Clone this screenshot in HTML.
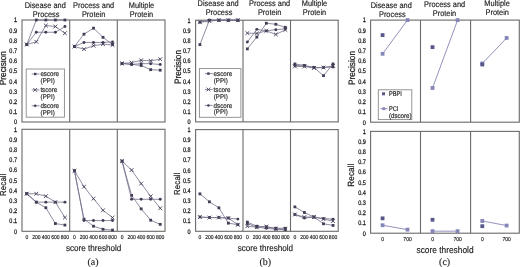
<!DOCTYPE html>
<html><head><meta charset="utf-8"><style>
html,body{margin:0;padding:0;background:#fff;}
body{width:520px;height:267px;overflow:hidden;font-family:"Liberation Sans", sans-serif;}
svg{display:block;filter:blur(0.35px);} text{text-rendering:geometricPrecision;}
</style></head><body>
<svg width="520" height="267" viewBox="0 0 520 267" font-family='"Liberation Sans", sans-serif'>
<rect width="520" height="267" fill="#fff"/>
<rect x="22" y="20" width="143" height="102" fill="none" stroke="#6a6a6a" stroke-width="1.1"/>
<line x1="69.7" y1="20" x2="69.7" y2="122" stroke="#6a6a6a" stroke-width="1.1"/>
<line x1="117.3" y1="20" x2="117.3" y2="122" stroke="#6a6a6a" stroke-width="1.1"/>
<rect x="22" y="129.3" width="143" height="102" fill="none" stroke="#6a6a6a" stroke-width="1.1"/>
<line x1="69.7" y1="129.3" x2="69.7" y2="231.3" stroke="#6a6a6a" stroke-width="1.1"/>
<line x1="117.3" y1="129.3" x2="117.3" y2="231.3" stroke="#6a6a6a" stroke-width="1.1"/>
<text transform="translate(17 124.31) scale(1 1.2)" font-size="5.5" text-anchor="end" fill="#1a1a1a" stroke="#1a1a1a" stroke-width="0.22" >0</text>
<text transform="translate(17 114.11) scale(1 1.2)" font-size="5.5" text-anchor="end" fill="#1a1a1a" stroke="#1a1a1a" stroke-width="0.22" >0.1</text>
<text transform="translate(17 103.91) scale(1 1.2)" font-size="5.5" text-anchor="end" fill="#1a1a1a" stroke="#1a1a1a" stroke-width="0.22" >0.2</text>
<text transform="translate(17 93.71) scale(1 1.2)" font-size="5.5" text-anchor="end" fill="#1a1a1a" stroke="#1a1a1a" stroke-width="0.22" >0.3</text>
<text transform="translate(17 83.51) scale(1 1.2)" font-size="5.5" text-anchor="end" fill="#1a1a1a" stroke="#1a1a1a" stroke-width="0.22" >0.4</text>
<text transform="translate(17 73.31) scale(1 1.2)" font-size="5.5" text-anchor="end" fill="#1a1a1a" stroke="#1a1a1a" stroke-width="0.22" >0.5</text>
<text transform="translate(17 63.11) scale(1 1.2)" font-size="5.5" text-anchor="end" fill="#1a1a1a" stroke="#1a1a1a" stroke-width="0.22" >0.6</text>
<text transform="translate(17 52.91) scale(1 1.2)" font-size="5.5" text-anchor="end" fill="#1a1a1a" stroke="#1a1a1a" stroke-width="0.22" >0.7</text>
<text transform="translate(17 42.71) scale(1 1.2)" font-size="5.5" text-anchor="end" fill="#1a1a1a" stroke="#1a1a1a" stroke-width="0.22" >0.8</text>
<text transform="translate(17 32.51) scale(1 1.2)" font-size="5.5" text-anchor="end" fill="#1a1a1a" stroke="#1a1a1a" stroke-width="0.22" >0.9</text>
<text transform="translate(17 22.31) scale(1 1.2)" font-size="5.5" text-anchor="end" fill="#1a1a1a" stroke="#1a1a1a" stroke-width="0.22" >1</text>
<text transform="translate(17 233.61) scale(1 1.2)" font-size="5.5" text-anchor="end" fill="#1a1a1a" stroke="#1a1a1a" stroke-width="0.22" >0</text>
<text transform="translate(17 223.41) scale(1 1.2)" font-size="5.5" text-anchor="end" fill="#1a1a1a" stroke="#1a1a1a" stroke-width="0.22" >0.1</text>
<text transform="translate(17 213.21) scale(1 1.2)" font-size="5.5" text-anchor="end" fill="#1a1a1a" stroke="#1a1a1a" stroke-width="0.22" >0.2</text>
<text transform="translate(17 203.01) scale(1 1.2)" font-size="5.5" text-anchor="end" fill="#1a1a1a" stroke="#1a1a1a" stroke-width="0.22" >0.3</text>
<text transform="translate(17 192.81) scale(1 1.2)" font-size="5.5" text-anchor="end" fill="#1a1a1a" stroke="#1a1a1a" stroke-width="0.22" >0.4</text>
<text transform="translate(17 182.61) scale(1 1.2)" font-size="5.5" text-anchor="end" fill="#1a1a1a" stroke="#1a1a1a" stroke-width="0.22" >0.5</text>
<text transform="translate(17 172.41) scale(1 1.2)" font-size="5.5" text-anchor="end" fill="#1a1a1a" stroke="#1a1a1a" stroke-width="0.22" >0.6</text>
<text transform="translate(17 162.21) scale(1 1.2)" font-size="5.5" text-anchor="end" fill="#1a1a1a" stroke="#1a1a1a" stroke-width="0.22" >0.7</text>
<text transform="translate(17 152.01) scale(1 1.2)" font-size="5.5" text-anchor="end" fill="#1a1a1a" stroke="#1a1a1a" stroke-width="0.22" >0.8</text>
<text transform="translate(17 141.81) scale(1 1.2)" font-size="5.5" text-anchor="end" fill="#1a1a1a" stroke="#1a1a1a" stroke-width="0.22" >0.9</text>
<text transform="translate(17 131.61) scale(1 1.2)" font-size="5.5" text-anchor="end" fill="#1a1a1a" stroke="#1a1a1a" stroke-width="0.22" >1</text>
<text font-size="8.3" text-anchor="middle" fill="#1a1a1a" stroke="#1a1a1a" stroke-width="0.2" text-rendering="geometricPrecision" transform="translate(5.9 68.2) rotate(-90) scale(1 1.12)">Precision</text>
<text font-size="7.7" text-anchor="middle" fill="#1a1a1a" stroke="#1a1a1a" stroke-width="0.2" letter-spacing="0.2" text-rendering="geometricPrecision" transform="translate(5.6 184.6) rotate(-90) scale(1 1.12)">Recall</text>
<path d="M26.77 44.48L36.31 20L45.85 20L55.39 20L64.93 20" stroke="#766e8a" stroke-width="0.8" fill="none"/>
<rect x="25.37" y="43.08" width="2.8" height="2.8" fill="#443c56"/>
<rect x="34.91" y="18.6" width="2.8" height="2.8" fill="#443c56"/>
<rect x="44.45" y="18.6" width="2.8" height="2.8" fill="#443c56"/>
<rect x="53.99" y="18.6" width="2.8" height="2.8" fill="#443c56"/>
<rect x="63.53" y="18.6" width="2.8" height="2.8" fill="#443c56"/>
<path d="M26.77 193.76L36.31 202.13L45.85 207.74L55.39 223.55L64.93 225.08" stroke="#766e8a" stroke-width="0.8" fill="none"/>
<rect x="25.37" y="192.36" width="2.8" height="2.8" fill="#443c56"/>
<rect x="34.91" y="200.73" width="2.8" height="2.8" fill="#443c56"/>
<rect x="44.45" y="206.34" width="2.8" height="2.8" fill="#443c56"/>
<rect x="53.99" y="222.15" width="2.8" height="2.8" fill="#443c56"/>
<rect x="63.53" y="223.68" width="2.8" height="2.8" fill="#443c56"/>
<path d="M26.77 44.48L36.31 32.24L45.85 32.24L55.39 32.24L64.93 26.53" stroke="#766e8a" stroke-width="0.8" fill="none"/>
<circle cx="26.77" cy="44.48" r="1.47" fill="#443c56"/>
<circle cx="36.31" cy="32.24" r="1.47" fill="#443c56"/>
<circle cx="45.85" cy="32.24" r="1.47" fill="#443c56"/>
<circle cx="55.39" cy="32.24" r="1.47" fill="#443c56"/>
<circle cx="64.93" cy="26.53" r="1.47" fill="#443c56"/>
<path d="M26.77 193.76L36.31 202.13L45.85 202.13L55.39 202.13L64.93 202.13" stroke="#766e8a" stroke-width="0.8" fill="none"/>
<circle cx="26.77" cy="193.76" r="1.47" fill="#443c56"/>
<circle cx="36.31" cy="202.13" r="1.47" fill="#443c56"/>
<circle cx="45.85" cy="202.13" r="1.47" fill="#443c56"/>
<circle cx="55.39" cy="202.13" r="1.47" fill="#443c56"/>
<circle cx="64.93" cy="202.13" r="1.47" fill="#443c56"/>
<path d="M26.77 44.48L36.31 41.83L45.85 25.51L55.39 26.53L64.93 33.26" stroke="#766e8a" stroke-width="0.8" fill="none"/>
<path d="M24.87 42.58L28.67 46.38M24.87 46.38L28.67 42.58" stroke="#443c56" stroke-width="0.9" fill="none"/>
<path d="M34.41 39.93L38.21 43.73M34.41 43.73L38.21 39.93" stroke="#443c56" stroke-width="0.9" fill="none"/>
<path d="M43.95 23.61L47.75 27.41M43.95 27.41L47.75 23.61" stroke="#443c56" stroke-width="0.9" fill="none"/>
<path d="M53.49 24.63L57.29 28.43M53.49 28.43L57.29 24.63" stroke="#443c56" stroke-width="0.9" fill="none"/>
<path d="M63.03 31.36L66.83 35.16M63.03 35.16L66.83 31.36" stroke="#443c56" stroke-width="0.9" fill="none"/>
<path d="M26.77 193.76L36.31 193.76L45.85 196.21L55.39 202.13L64.93 217.53" stroke="#766e8a" stroke-width="0.8" fill="none"/>
<path d="M24.87 191.86L28.67 195.66M24.87 195.66L28.67 191.86" stroke="#443c56" stroke-width="0.9" fill="none"/>
<path d="M34.41 191.86L38.21 195.66M34.41 195.66L38.21 191.86" stroke="#443c56" stroke-width="0.9" fill="none"/>
<path d="M43.95 194.31L47.75 198.11M43.95 198.11L47.75 194.31" stroke="#443c56" stroke-width="0.9" fill="none"/>
<path d="M53.49 200.23L57.29 204.03M53.49 204.03L57.29 200.23" stroke="#443c56" stroke-width="0.9" fill="none"/>
<path d="M63.03 215.63L66.83 219.43M63.03 219.43L66.83 215.63" stroke="#443c56" stroke-width="0.9" fill="none"/>
<text transform="translate(26.77 239.3) scale(1 1.15)" font-size="5.0" text-anchor="middle" fill="#1a1a1a" stroke="#1a1a1a" stroke-width="0.14" >0</text>
<text transform="translate(36.31 239.3) scale(1 1.15)" font-size="5.0" text-anchor="middle" fill="#1a1a1a" stroke="#1a1a1a" stroke-width="0.14" >200</text>
<text transform="translate(45.85 239.3) scale(1 1.15)" font-size="5.0" text-anchor="middle" fill="#1a1a1a" stroke="#1a1a1a" stroke-width="0.14" >400</text>
<text transform="translate(55.39 239.3) scale(1 1.15)" font-size="5.0" text-anchor="middle" fill="#1a1a1a" stroke="#1a1a1a" stroke-width="0.14" >600</text>
<text transform="translate(64.93 239.3) scale(1 1.15)" font-size="5.0" text-anchor="middle" fill="#1a1a1a" stroke="#1a1a1a" stroke-width="0.14" >800</text>
<text transform="translate(45.2 7.8) scale(1 1.1)" font-size="7.4" text-anchor="middle" fill="#1a1a1a" stroke="#1a1a1a" stroke-width="0.14" >Disease and</text>
<text transform="translate(46.1 16.5) scale(1 1.1)" font-size="7.4" text-anchor="middle" fill="#1a1a1a" stroke="#1a1a1a" stroke-width="0.14" >Process</text>
<path d="M74.46 46.52L83.98 34.18L93.5 28.16L103.02 37.34L112.54 44.48" stroke="#766e8a" stroke-width="0.8" fill="none"/>
<rect x="73.06" y="45.12" width="2.8" height="2.8" fill="#443c56"/>
<rect x="82.58" y="32.78" width="2.8" height="2.8" fill="#443c56"/>
<rect x="92.1" y="26.76" width="2.8" height="2.8" fill="#443c56"/>
<rect x="101.62" y="35.94" width="2.8" height="2.8" fill="#443c56"/>
<rect x="111.14" y="43.08" width="2.8" height="2.8" fill="#443c56"/>
<path d="M74.46 170.81L83.98 219.06L93.5 226.2L103.02 229.26L112.54 230.08" stroke="#766e8a" stroke-width="0.8" fill="none"/>
<rect x="73.06" y="169.41" width="2.8" height="2.8" fill="#443c56"/>
<rect x="82.58" y="217.66" width="2.8" height="2.8" fill="#443c56"/>
<rect x="92.1" y="224.8" width="2.8" height="2.8" fill="#443c56"/>
<rect x="101.62" y="227.86" width="2.8" height="2.8" fill="#443c56"/>
<rect x="111.14" y="228.68" width="2.8" height="2.8" fill="#443c56"/>
<path d="M74.46 46.52L83.98 42.44L93.5 42.44L103.02 42.44L112.54 41.93" stroke="#766e8a" stroke-width="0.8" fill="none"/>
<circle cx="74.46" cy="46.52" r="1.47" fill="#443c56"/>
<circle cx="83.98" cy="42.44" r="1.47" fill="#443c56"/>
<circle cx="93.5" cy="42.44" r="1.47" fill="#443c56"/>
<circle cx="103.02" cy="42.44" r="1.47" fill="#443c56"/>
<circle cx="112.54" cy="41.93" r="1.47" fill="#443c56"/>
<path d="M74.46 170.81L83.98 220.59L93.5 220.59L103.02 220.59L112.54 220.59" stroke="#766e8a" stroke-width="0.8" fill="none"/>
<circle cx="74.46" cy="170.81" r="1.47" fill="#443c56"/>
<circle cx="83.98" cy="220.59" r="1.47" fill="#443c56"/>
<circle cx="93.5" cy="220.59" r="1.47" fill="#443c56"/>
<circle cx="103.02" cy="220.59" r="1.47" fill="#443c56"/>
<circle cx="112.54" cy="220.59" r="1.47" fill="#443c56"/>
<path d="M74.46 46.52L83.98 49.17L93.5 45.7L103.02 44.17L112.54 44.99" stroke="#766e8a" stroke-width="0.8" fill="none"/>
<path d="M72.56 44.62L76.36 48.42M72.56 48.42L76.36 44.62" stroke="#443c56" stroke-width="0.9" fill="none"/>
<path d="M82.08 47.27L85.88 51.07M82.08 51.07L85.88 47.27" stroke="#443c56" stroke-width="0.9" fill="none"/>
<path d="M91.6 43.8L95.4 47.6M91.6 47.6L95.4 43.8" stroke="#443c56" stroke-width="0.9" fill="none"/>
<path d="M101.12 42.27L104.92 46.07M101.12 46.07L104.92 42.27" stroke="#443c56" stroke-width="0.9" fill="none"/>
<path d="M110.64 43.09L114.44 46.89M110.64 46.89L114.44 43.09" stroke="#443c56" stroke-width="0.9" fill="none"/>
<path d="M74.46 170.81L83.98 186.73L93.5 198.66L103.02 210.29L112.54 217.63" stroke="#766e8a" stroke-width="0.8" fill="none"/>
<path d="M72.56 168.91L76.36 172.71M72.56 172.71L76.36 168.91" stroke="#443c56" stroke-width="0.9" fill="none"/>
<path d="M82.08 184.83L85.88 188.63M82.08 188.63L85.88 184.83" stroke="#443c56" stroke-width="0.9" fill="none"/>
<path d="M91.6 196.76L95.4 200.56M91.6 200.56L95.4 196.76" stroke="#443c56" stroke-width="0.9" fill="none"/>
<path d="M101.12 208.39L104.92 212.19M101.12 212.19L104.92 208.39" stroke="#443c56" stroke-width="0.9" fill="none"/>
<path d="M110.64 215.73L114.44 219.53M110.64 219.53L114.44 215.73" stroke="#443c56" stroke-width="0.9" fill="none"/>
<text transform="translate(74.46 239.3) scale(1 1.15)" font-size="5.0" text-anchor="middle" fill="#1a1a1a" stroke="#1a1a1a" stroke-width="0.14" >0</text>
<text transform="translate(83.98 239.3) scale(1 1.15)" font-size="5.0" text-anchor="middle" fill="#1a1a1a" stroke="#1a1a1a" stroke-width="0.14" >200</text>
<text transform="translate(93.5 239.3) scale(1 1.15)" font-size="5.0" text-anchor="middle" fill="#1a1a1a" stroke="#1a1a1a" stroke-width="0.14" >400</text>
<text transform="translate(103.02 239.3) scale(1 1.15)" font-size="5.0" text-anchor="middle" fill="#1a1a1a" stroke="#1a1a1a" stroke-width="0.14" >600</text>
<text transform="translate(112.54 239.3) scale(1 1.15)" font-size="5.0" text-anchor="middle" fill="#1a1a1a" stroke="#1a1a1a" stroke-width="0.14" >800</text>
<text transform="translate(93.6 7.8) scale(1 1.1)" font-size="7.4" text-anchor="middle" fill="#1a1a1a" stroke="#1a1a1a" stroke-width="0.14" >Process and</text>
<text transform="translate(93.6 17) scale(1 1.1)" font-size="7.4" text-anchor="middle" fill="#1a1a1a" stroke="#1a1a1a" stroke-width="0.14" >Protein</text>
<path d="M122.07 63.45L131.61 64.37L141.15 65.49L150.69 69.67L160.23 70.18" stroke="#766e8a" stroke-width="0.8" fill="none"/>
<rect x="120.67" y="62.05" width="2.8" height="2.8" fill="#443c56"/>
<rect x="130.21" y="62.97" width="2.8" height="2.8" fill="#443c56"/>
<rect x="139.75" y="64.09" width="2.8" height="2.8" fill="#443c56"/>
<rect x="149.29" y="68.27" width="2.8" height="2.8" fill="#443c56"/>
<rect x="158.83" y="68.78" width="2.8" height="2.8" fill="#443c56"/>
<path d="M122.07 161.12L131.61 195.4L141.15 208.86L150.69 220.18L160.23 224.36" stroke="#766e8a" stroke-width="0.8" fill="none"/>
<rect x="120.67" y="159.72" width="2.8" height="2.8" fill="#443c56"/>
<rect x="130.21" y="194" width="2.8" height="2.8" fill="#443c56"/>
<rect x="139.75" y="207.46" width="2.8" height="2.8" fill="#443c56"/>
<rect x="149.29" y="218.78" width="2.8" height="2.8" fill="#443c56"/>
<rect x="158.83" y="222.96" width="2.8" height="2.8" fill="#443c56"/>
<path d="M122.07 63.45L131.61 64.37L141.15 63.66L150.69 63.66L160.23 64.57" stroke="#766e8a" stroke-width="0.8" fill="none"/>
<circle cx="122.07" cy="63.45" r="1.47" fill="#443c56"/>
<circle cx="131.61" cy="64.37" r="1.47" fill="#443c56"/>
<circle cx="141.15" cy="63.66" r="1.47" fill="#443c56"/>
<circle cx="150.69" cy="63.66" r="1.47" fill="#443c56"/>
<circle cx="160.23" cy="64.57" r="1.47" fill="#443c56"/>
<path d="M122.07 161.12L131.61 199.27L141.15 199.27L150.69 199.27L160.23 199.27" stroke="#766e8a" stroke-width="0.8" fill="none"/>
<circle cx="122.07" cy="161.12" r="1.47" fill="#443c56"/>
<circle cx="131.61" cy="199.27" r="1.47" fill="#443c56"/>
<circle cx="141.15" cy="199.27" r="1.47" fill="#443c56"/>
<circle cx="150.69" cy="199.27" r="1.47" fill="#443c56"/>
<circle cx="160.23" cy="199.27" r="1.47" fill="#443c56"/>
<path d="M122.07 63.45L131.61 62.64L141.15 60.29L150.69 60.8L160.23 59.17" stroke="#766e8a" stroke-width="0.8" fill="none"/>
<path d="M120.17 61.55L123.97 65.35M120.17 65.35L123.97 61.55" stroke="#443c56" stroke-width="0.9" fill="none"/>
<path d="M129.71 60.74L133.51 64.54M129.71 64.54L133.51 60.74" stroke="#443c56" stroke-width="0.9" fill="none"/>
<path d="M139.25 58.39L143.05 62.19M139.25 62.19L143.05 58.39" stroke="#443c56" stroke-width="0.9" fill="none"/>
<path d="M148.79 58.9L152.59 62.7M148.79 62.7L152.59 58.9" stroke="#443c56" stroke-width="0.9" fill="none"/>
<path d="M158.33 57.27L162.13 61.07M158.33 61.07L162.13 57.27" stroke="#443c56" stroke-width="0.9" fill="none"/>
<path d="M122.07 161.12L131.61 170.1L141.15 183.56L150.69 196.31L160.23 208.25" stroke="#766e8a" stroke-width="0.8" fill="none"/>
<path d="M120.17 159.22L123.97 163.02M120.17 163.02L123.97 159.22" stroke="#443c56" stroke-width="0.9" fill="none"/>
<path d="M129.71 168.2L133.51 172M129.71 172L133.51 168.2" stroke="#443c56" stroke-width="0.9" fill="none"/>
<path d="M139.25 181.66L143.05 185.46M139.25 185.46L143.05 181.66" stroke="#443c56" stroke-width="0.9" fill="none"/>
<path d="M148.79 194.41L152.59 198.21M148.79 198.21L152.59 194.41" stroke="#443c56" stroke-width="0.9" fill="none"/>
<path d="M158.33 206.35L162.13 210.15M158.33 210.15L162.13 206.35" stroke="#443c56" stroke-width="0.9" fill="none"/>
<text transform="translate(122.07 239.3) scale(1 1.15)" font-size="5.0" text-anchor="middle" fill="#1a1a1a" stroke="#1a1a1a" stroke-width="0.14" >0</text>
<text transform="translate(131.61 239.3) scale(1 1.15)" font-size="5.0" text-anchor="middle" fill="#1a1a1a" stroke="#1a1a1a" stroke-width="0.14" >200</text>
<text transform="translate(141.15 239.3) scale(1 1.15)" font-size="5.0" text-anchor="middle" fill="#1a1a1a" stroke="#1a1a1a" stroke-width="0.14" >400</text>
<text transform="translate(150.69 239.3) scale(1 1.15)" font-size="5.0" text-anchor="middle" fill="#1a1a1a" stroke="#1a1a1a" stroke-width="0.14" >600</text>
<text transform="translate(160.23 239.3) scale(1 1.15)" font-size="5.0" text-anchor="middle" fill="#1a1a1a" stroke="#1a1a1a" stroke-width="0.14" >800</text>
<text transform="translate(141.5 8.2) scale(1 1.1)" font-size="7.4" text-anchor="middle" fill="#1a1a1a" stroke="#1a1a1a" stroke-width="0.14" >Multiple</text>
<text transform="translate(141.5 17) scale(1 1.1)" font-size="7.4" text-anchor="middle" fill="#1a1a1a" stroke="#1a1a1a" stroke-width="0.14" >Protein</text>
<rect x="26.2" y="69" width="38.2" height="48.2" fill="#fff" stroke="#8a8a8a" stroke-width="0.9"/>
<line x1="31.7" y1="74" x2="39.5" y2="74" stroke="#766e8a" stroke-width="0.8"/>
<rect x="34" y="72.8" width="2.4" height="2.4" fill="#443c56"/>
<text transform="translate(40.4 76.1) scale(1 1.1)" font-size="6.2" text-anchor="start" fill="#1a1a1a" stroke="#1a1a1a" stroke-width="0.14" >escore</text>
<text transform="translate(40.6 83) scale(1 1.1)" font-size="6.2" text-anchor="start" fill="#1a1a1a" stroke="#1a1a1a" stroke-width="0.14" >(PPI)</text>
<line x1="31.7" y1="89.9" x2="39.5" y2="89.9" stroke="#766e8a" stroke-width="0.8"/>
<path d="M33.3 88L37.1 91.8M33.3 91.8L37.1 88" stroke="#443c56" stroke-width="0.9" fill="none"/>
<text transform="translate(40.4 92) scale(1 1.1)" font-size="6.2" text-anchor="start" fill="#1a1a1a" stroke="#1a1a1a" stroke-width="0.14" >tscore</text>
<text transform="translate(40.6 98.9) scale(1 1.1)" font-size="6.2" text-anchor="start" fill="#1a1a1a" stroke="#1a1a1a" stroke-width="0.14" >(PPI)</text>
<line x1="31.7" y1="105.8" x2="39.5" y2="105.8" stroke="#766e8a" stroke-width="0.8"/>
<circle cx="35.2" cy="105.8" r="1.26" fill="#443c56"/>
<text transform="translate(40.4 107.9) scale(1 1.1)" font-size="6.2" text-anchor="start" fill="#1a1a1a" stroke="#1a1a1a" stroke-width="0.14" >dscore</text>
<text transform="translate(40.6 114.8) scale(1 1.1)" font-size="6.2" text-anchor="start" fill="#1a1a1a" stroke="#1a1a1a" stroke-width="0.14" >(PPI)</text>
<text transform="translate(93.6 250.8) scale(1 1.1)" font-size="8.1" text-anchor="middle" fill="#1a1a1a" stroke="#1a1a1a" stroke-width="0.14" >score threshold</text>
<rect x="195.6" y="20.2" width="142.6" height="101.7" fill="none" stroke="#6a6a6a" stroke-width="1.1"/>
<line x1="243" y1="20.2" x2="243" y2="121.9" stroke="#6a6a6a" stroke-width="1.1"/>
<line x1="290.5" y1="20.2" x2="290.5" y2="121.9" stroke="#6a6a6a" stroke-width="1.1"/>
<rect x="195.6" y="129.6" width="142.6" height="101.7" fill="none" stroke="#6a6a6a" stroke-width="1.1"/>
<line x1="243" y1="129.6" x2="243" y2="231.3" stroke="#6a6a6a" stroke-width="1.1"/>
<line x1="290.5" y1="129.6" x2="290.5" y2="231.3" stroke="#6a6a6a" stroke-width="1.1"/>
<text transform="translate(190.6 124.21) scale(1 1.2)" font-size="5.5" text-anchor="end" fill="#1a1a1a" stroke="#1a1a1a" stroke-width="0.22" >0</text>
<text transform="translate(190.6 114.04) scale(1 1.2)" font-size="5.5" text-anchor="end" fill="#1a1a1a" stroke="#1a1a1a" stroke-width="0.22" >0.1</text>
<text transform="translate(190.6 103.87) scale(1 1.2)" font-size="5.5" text-anchor="end" fill="#1a1a1a" stroke="#1a1a1a" stroke-width="0.22" >0.2</text>
<text transform="translate(190.6 93.7) scale(1 1.2)" font-size="5.5" text-anchor="end" fill="#1a1a1a" stroke="#1a1a1a" stroke-width="0.22" >0.3</text>
<text transform="translate(190.6 83.53) scale(1 1.2)" font-size="5.5" text-anchor="end" fill="#1a1a1a" stroke="#1a1a1a" stroke-width="0.22" >0.4</text>
<text transform="translate(190.6 73.36) scale(1 1.2)" font-size="5.5" text-anchor="end" fill="#1a1a1a" stroke="#1a1a1a" stroke-width="0.22" >0.5</text>
<text transform="translate(190.6 63.19) scale(1 1.2)" font-size="5.5" text-anchor="end" fill="#1a1a1a" stroke="#1a1a1a" stroke-width="0.22" >0.6</text>
<text transform="translate(190.6 53.02) scale(1 1.2)" font-size="5.5" text-anchor="end" fill="#1a1a1a" stroke="#1a1a1a" stroke-width="0.22" >0.7</text>
<text transform="translate(190.6 42.85) scale(1 1.2)" font-size="5.5" text-anchor="end" fill="#1a1a1a" stroke="#1a1a1a" stroke-width="0.22" >0.8</text>
<text transform="translate(190.6 32.68) scale(1 1.2)" font-size="5.5" text-anchor="end" fill="#1a1a1a" stroke="#1a1a1a" stroke-width="0.22" >0.9</text>
<text transform="translate(190.6 22.51) scale(1 1.2)" font-size="5.5" text-anchor="end" fill="#1a1a1a" stroke="#1a1a1a" stroke-width="0.22" >1</text>
<text transform="translate(190.6 233.61) scale(1 1.2)" font-size="5.5" text-anchor="end" fill="#1a1a1a" stroke="#1a1a1a" stroke-width="0.22" >0</text>
<text transform="translate(190.6 223.44) scale(1 1.2)" font-size="5.5" text-anchor="end" fill="#1a1a1a" stroke="#1a1a1a" stroke-width="0.22" >0.1</text>
<text transform="translate(190.6 213.27) scale(1 1.2)" font-size="5.5" text-anchor="end" fill="#1a1a1a" stroke="#1a1a1a" stroke-width="0.22" >0.2</text>
<text transform="translate(190.6 203.1) scale(1 1.2)" font-size="5.5" text-anchor="end" fill="#1a1a1a" stroke="#1a1a1a" stroke-width="0.22" >0.3</text>
<text transform="translate(190.6 192.93) scale(1 1.2)" font-size="5.5" text-anchor="end" fill="#1a1a1a" stroke="#1a1a1a" stroke-width="0.22" >0.4</text>
<text transform="translate(190.6 182.76) scale(1 1.2)" font-size="5.5" text-anchor="end" fill="#1a1a1a" stroke="#1a1a1a" stroke-width="0.22" >0.5</text>
<text transform="translate(190.6 172.59) scale(1 1.2)" font-size="5.5" text-anchor="end" fill="#1a1a1a" stroke="#1a1a1a" stroke-width="0.22" >0.6</text>
<text transform="translate(190.6 162.42) scale(1 1.2)" font-size="5.5" text-anchor="end" fill="#1a1a1a" stroke="#1a1a1a" stroke-width="0.22" >0.7</text>
<text transform="translate(190.6 152.25) scale(1 1.2)" font-size="5.5" text-anchor="end" fill="#1a1a1a" stroke="#1a1a1a" stroke-width="0.22" >0.8</text>
<text transform="translate(190.6 142.08) scale(1 1.2)" font-size="5.5" text-anchor="end" fill="#1a1a1a" stroke="#1a1a1a" stroke-width="0.22" >0.9</text>
<text transform="translate(190.6 131.91) scale(1 1.2)" font-size="5.5" text-anchor="end" fill="#1a1a1a" stroke="#1a1a1a" stroke-width="0.22" >1</text>
<text font-size="8.3" text-anchor="middle" fill="#1a1a1a" stroke="#1a1a1a" stroke-width="0.2" text-rendering="geometricPrecision" transform="translate(181 67) rotate(-90) scale(1 1.12)">Precision</text>
<text font-size="7.7" text-anchor="middle" fill="#1a1a1a" stroke="#1a1a1a" stroke-width="0.2" letter-spacing="0.2" text-rendering="geometricPrecision" transform="translate(179.6 183.6) rotate(-90) scale(1 1.12)">Recall</text>
<path d="M199.94 44.61L209.42 20.2L218.9 20.2L228.38 20.2L237.86 20.2" stroke="#766e8a" stroke-width="0.8" fill="none"/>
<rect x="198.54" y="43.21" width="2.8" height="2.8" fill="#443c56"/>
<rect x="208.02" y="18.8" width="2.8" height="2.8" fill="#443c56"/>
<rect x="217.5" y="18.8" width="2.8" height="2.8" fill="#443c56"/>
<rect x="226.98" y="18.8" width="2.8" height="2.8" fill="#443c56"/>
<rect x="236.46" y="18.8" width="2.8" height="2.8" fill="#443c56"/>
<path d="M199.94 193.87L209.42 201.81L218.9 207.81L228.38 223.16L237.86 224.69" stroke="#766e8a" stroke-width="0.8" fill="none"/>
<rect x="198.54" y="192.47" width="2.8" height="2.8" fill="#443c56"/>
<rect x="208.02" y="200.41" width="2.8" height="2.8" fill="#443c56"/>
<rect x="217.5" y="206.41" width="2.8" height="2.8" fill="#443c56"/>
<rect x="226.98" y="221.76" width="2.8" height="2.8" fill="#443c56"/>
<rect x="236.46" y="223.29" width="2.8" height="2.8" fill="#443c56"/>
<path d="M199.94 22.23L209.42 20.2L218.9 20.2L228.38 20.2L237.86 20.2" stroke="#766e8a" stroke-width="0.8" fill="none"/>
<circle cx="199.94" cy="22.23" r="1.47" fill="#443c56"/>
<circle cx="209.42" cy="20.2" r="1.47" fill="#443c56"/>
<circle cx="218.9" cy="20.2" r="1.47" fill="#443c56"/>
<circle cx="228.38" cy="20.2" r="1.47" fill="#443c56"/>
<circle cx="237.86" cy="20.2" r="1.47" fill="#443c56"/>
<path d="M199.94 217.06L209.42 217.57L218.9 217.57L228.38 218.08L237.86 219.1" stroke="#766e8a" stroke-width="0.8" fill="none"/>
<circle cx="199.94" cy="217.06" r="1.47" fill="#443c56"/>
<circle cx="209.42" cy="217.57" r="1.47" fill="#443c56"/>
<circle cx="218.9" cy="217.57" r="1.47" fill="#443c56"/>
<circle cx="228.38" cy="218.08" r="1.47" fill="#443c56"/>
<circle cx="237.86" cy="219.1" r="1.47" fill="#443c56"/>
<path d="M199.94 22.23L209.42 21.22L218.9 20.2L228.38 20.2L237.86 20.2" stroke="#766e8a" stroke-width="0.8" fill="none"/>
<path d="M198.04 20.33L201.84 24.13M198.04 24.13L201.84 20.33" stroke="#443c56" stroke-width="0.9" fill="none"/>
<path d="M207.52 19.32L211.32 23.12M207.52 23.12L211.32 19.32" stroke="#443c56" stroke-width="0.9" fill="none"/>
<path d="M217 18.3L220.8 22.1M217 22.1L220.8 18.3" stroke="#443c56" stroke-width="0.9" fill="none"/>
<path d="M226.48 18.3L230.28 22.1M226.48 22.1L230.28 18.3" stroke="#443c56" stroke-width="0.9" fill="none"/>
<path d="M235.96 18.3L239.76 22.1M235.96 22.1L239.76 18.3" stroke="#443c56" stroke-width="0.9" fill="none"/>
<path d="M199.94 217.06L209.42 217.57L218.9 217.57L228.38 218.08L237.86 224.69" stroke="#766e8a" stroke-width="0.8" fill="none"/>
<path d="M198.04 215.16L201.84 218.96M198.04 218.96L201.84 215.16" stroke="#443c56" stroke-width="0.9" fill="none"/>
<path d="M207.52 215.67L211.32 219.47M207.52 219.47L211.32 215.67" stroke="#443c56" stroke-width="0.9" fill="none"/>
<path d="M217 215.67L220.8 219.47M217 219.47L220.8 215.67" stroke="#443c56" stroke-width="0.9" fill="none"/>
<path d="M226.48 216.18L230.28 219.98M226.48 219.98L230.28 216.18" stroke="#443c56" stroke-width="0.9" fill="none"/>
<path d="M235.96 222.79L239.76 226.59M235.96 226.59L239.76 222.79" stroke="#443c56" stroke-width="0.9" fill="none"/>
<text transform="translate(199.94 239.3) scale(1 1.15)" font-size="5.0" text-anchor="middle" fill="#1a1a1a" stroke="#1a1a1a" stroke-width="0.14" >0</text>
<text transform="translate(209.42 239.3) scale(1 1.15)" font-size="5.0" text-anchor="middle" fill="#1a1a1a" stroke="#1a1a1a" stroke-width="0.14" >200</text>
<text transform="translate(218.9 239.3) scale(1 1.15)" font-size="5.0" text-anchor="middle" fill="#1a1a1a" stroke="#1a1a1a" stroke-width="0.14" >400</text>
<text transform="translate(228.38 239.3) scale(1 1.15)" font-size="5.0" text-anchor="middle" fill="#1a1a1a" stroke="#1a1a1a" stroke-width="0.14" >600</text>
<text transform="translate(237.86 239.3) scale(1 1.15)" font-size="5.0" text-anchor="middle" fill="#1a1a1a" stroke="#1a1a1a" stroke-width="0.14" >800</text>
<text transform="translate(218.1 5.9) scale(1 1.1)" font-size="7.4" text-anchor="middle" fill="#1a1a1a" stroke="#1a1a1a" stroke-width="0.14" >Disease and</text>
<text transform="translate(219 15) scale(1 1.1)" font-size="7.4" text-anchor="middle" fill="#1a1a1a" stroke="#1a1a1a" stroke-width="0.14" >Process</text>
<path d="M247.35 48.88L256.85 37.08L266.35 23.25L275.85 24.27L285.35 27.32" stroke="#766e8a" stroke-width="0.8" fill="none"/>
<rect x="245.95" y="47.48" width="2.8" height="2.8" fill="#443c56"/>
<rect x="255.45" y="35.68" width="2.8" height="2.8" fill="#443c56"/>
<rect x="264.95" y="21.85" width="2.8" height="2.8" fill="#443c56"/>
<rect x="274.45" y="22.87" width="2.8" height="2.8" fill="#443c56"/>
<rect x="283.95" y="25.92" width="2.8" height="2.8" fill="#443c56"/>
<path d="M247.35 222.15L256.85 226.22L266.35 226.72L275.85 228.25L285.35 228.25" stroke="#766e8a" stroke-width="0.8" fill="none"/>
<rect x="245.95" y="220.75" width="2.8" height="2.8" fill="#443c56"/>
<rect x="255.45" y="224.81" width="2.8" height="2.8" fill="#443c56"/>
<rect x="264.95" y="225.32" width="2.8" height="2.8" fill="#443c56"/>
<rect x="274.45" y="226.85" width="2.8" height="2.8" fill="#443c56"/>
<rect x="283.95" y="226.85" width="2.8" height="2.8" fill="#443c56"/>
<path d="M247.35 42.07L256.85 29.35L266.35 30.88L275.85 29.66L285.35 28.84" stroke="#766e8a" stroke-width="0.8" fill="none"/>
<circle cx="247.35" cy="42.07" r="1.47" fill="#443c56"/>
<circle cx="256.85" cy="29.35" r="1.47" fill="#443c56"/>
<circle cx="266.35" cy="30.88" r="1.47" fill="#443c56"/>
<circle cx="275.85" cy="29.66" r="1.47" fill="#443c56"/>
<circle cx="285.35" cy="28.84" r="1.47" fill="#443c56"/>
<path d="M247.35 223.67L256.85 227.23L266.35 228.25L275.85 229.27L285.35 229.77" stroke="#766e8a" stroke-width="0.8" fill="none"/>
<circle cx="247.35" cy="223.67" r="1.47" fill="#443c56"/>
<circle cx="256.85" cy="227.23" r="1.47" fill="#443c56"/>
<circle cx="266.35" cy="228.25" r="1.47" fill="#443c56"/>
<circle cx="275.85" cy="229.27" r="1.47" fill="#443c56"/>
<circle cx="285.35" cy="229.77" r="1.47" fill="#443c56"/>
<path d="M247.35 33.12L256.85 33.42L266.35 30.88L275.85 34.44L285.35 29.86" stroke="#766e8a" stroke-width="0.8" fill="none"/>
<path d="M245.45 31.22L249.25 35.02M245.45 35.02L249.25 31.22" stroke="#443c56" stroke-width="0.9" fill="none"/>
<path d="M254.95 31.52L258.75 35.32M254.95 35.32L258.75 31.52" stroke="#443c56" stroke-width="0.9" fill="none"/>
<path d="M264.45 28.98L268.25 32.78M264.45 32.78L268.25 28.98" stroke="#443c56" stroke-width="0.9" fill="none"/>
<path d="M273.95 32.54L277.75 36.34M273.95 36.34L277.75 32.54" stroke="#443c56" stroke-width="0.9" fill="none"/>
<path d="M283.45 27.96L287.25 31.76M283.45 31.76L287.25 27.96" stroke="#443c56" stroke-width="0.9" fill="none"/>
<path d="M247.35 226.22L256.85 227.23L266.35 226.72L275.85 228.76L285.35 229.27" stroke="#766e8a" stroke-width="0.8" fill="none"/>
<path d="M245.45 224.31L249.25 228.12M245.45 228.12L249.25 224.31" stroke="#443c56" stroke-width="0.9" fill="none"/>
<path d="M254.95 225.33L258.75 229.13M254.95 229.13L258.75 225.33" stroke="#443c56" stroke-width="0.9" fill="none"/>
<path d="M264.45 224.82L268.25 228.62M264.45 228.62L268.25 224.82" stroke="#443c56" stroke-width="0.9" fill="none"/>
<path d="M273.95 226.86L277.75 230.66M273.95 230.66L277.75 226.86" stroke="#443c56" stroke-width="0.9" fill="none"/>
<path d="M283.45 227.37L287.25 231.17M283.45 231.17L287.25 227.37" stroke="#443c56" stroke-width="0.9" fill="none"/>
<text transform="translate(247.35 239.3) scale(1 1.15)" font-size="5.0" text-anchor="middle" fill="#1a1a1a" stroke="#1a1a1a" stroke-width="0.14" >0</text>
<text transform="translate(256.85 239.3) scale(1 1.15)" font-size="5.0" text-anchor="middle" fill="#1a1a1a" stroke="#1a1a1a" stroke-width="0.14" >200</text>
<text transform="translate(266.35 239.3) scale(1 1.15)" font-size="5.0" text-anchor="middle" fill="#1a1a1a" stroke="#1a1a1a" stroke-width="0.14" >400</text>
<text transform="translate(275.85 239.3) scale(1 1.15)" font-size="5.0" text-anchor="middle" fill="#1a1a1a" stroke="#1a1a1a" stroke-width="0.14" >600</text>
<text transform="translate(285.35 239.3) scale(1 1.15)" font-size="5.0" text-anchor="middle" fill="#1a1a1a" stroke="#1a1a1a" stroke-width="0.14" >800</text>
<text transform="translate(269.6 5.6) scale(1 1.1)" font-size="7.4" text-anchor="middle" fill="#1a1a1a" stroke="#1a1a1a" stroke-width="0.14" >Process and</text>
<text transform="translate(269.6 14.7) scale(1 1.1)" font-size="7.4" text-anchor="middle" fill="#1a1a1a" stroke="#1a1a1a" stroke-width="0.14" >Protein</text>
<path d="M294.87 63.93L304.41 65.46L313.95 67.49L323.49 75.63L333.03 63.93" stroke="#766e8a" stroke-width="0.8" fill="none"/>
<rect x="293.47" y="62.53" width="2.8" height="2.8" fill="#443c56"/>
<rect x="303.01" y="64.06" width="2.8" height="2.8" fill="#443c56"/>
<rect x="312.55" y="66.09" width="2.8" height="2.8" fill="#443c56"/>
<rect x="322.09" y="74.23" width="2.8" height="2.8" fill="#443c56"/>
<rect x="331.63" y="62.53" width="2.8" height="2.8" fill="#443c56"/>
<path d="M294.87 206.89L304.41 212.49L313.95 217.06L323.49 223.77L333.03 225.4" stroke="#766e8a" stroke-width="0.8" fill="none"/>
<rect x="293.47" y="205.49" width="2.8" height="2.8" fill="#443c56"/>
<rect x="303.01" y="211.09" width="2.8" height="2.8" fill="#443c56"/>
<rect x="312.55" y="215.66" width="2.8" height="2.8" fill="#443c56"/>
<rect x="322.09" y="222.37" width="2.8" height="2.8" fill="#443c56"/>
<rect x="331.63" y="224" width="2.8" height="2.8" fill="#443c56"/>
<path d="M294.87 65.46L304.41 65.97L313.95 67.49L323.49 67.49L333.03 66.98" stroke="#766e8a" stroke-width="0.8" fill="none"/>
<circle cx="294.87" cy="65.46" r="1.47" fill="#443c56"/>
<circle cx="304.41" cy="65.97" r="1.47" fill="#443c56"/>
<circle cx="313.95" cy="67.49" r="1.47" fill="#443c56"/>
<circle cx="323.49" cy="67.49" r="1.47" fill="#443c56"/>
<circle cx="333.03" cy="66.98" r="1.47" fill="#443c56"/>
<path d="M294.87 214.52L304.41 218.08L313.95 217.06L323.49 218.59L333.03 219.1" stroke="#766e8a" stroke-width="0.8" fill="none"/>
<circle cx="294.87" cy="214.52" r="1.47" fill="#443c56"/>
<circle cx="304.41" cy="218.08" r="1.47" fill="#443c56"/>
<circle cx="313.95" cy="217.06" r="1.47" fill="#443c56"/>
<circle cx="323.49" cy="218.59" r="1.47" fill="#443c56"/>
<circle cx="333.03" cy="219.1" r="1.47" fill="#443c56"/>
<path d="M294.87 66.47L304.41 66.47L313.95 68L323.49 67.49L333.03 65.97" stroke="#766e8a" stroke-width="0.8" fill="none"/>
<path d="M292.97 64.57L296.77 68.37M292.97 68.37L296.77 64.57" stroke="#443c56" stroke-width="0.9" fill="none"/>
<path d="M302.51 64.57L306.31 68.37M302.51 68.37L306.31 64.57" stroke="#443c56" stroke-width="0.9" fill="none"/>
<path d="M312.05 66.1L315.85 69.9M312.05 69.9L315.85 66.1" stroke="#443c56" stroke-width="0.9" fill="none"/>
<path d="M321.59 65.59L325.39 69.39M321.59 69.39L325.39 65.59" stroke="#443c56" stroke-width="0.9" fill="none"/>
<path d="M331.13 64.06L334.93 67.87M331.13 67.87L334.93 64.06" stroke="#443c56" stroke-width="0.9" fill="none"/>
<path d="M294.87 214.52L304.41 217.06L313.95 217.06L323.49 219.1L333.03 221.13" stroke="#766e8a" stroke-width="0.8" fill="none"/>
<path d="M292.97 212.62L296.77 216.42M292.97 216.42L296.77 212.62" stroke="#443c56" stroke-width="0.9" fill="none"/>
<path d="M302.51 215.16L306.31 218.96M302.51 218.96L306.31 215.16" stroke="#443c56" stroke-width="0.9" fill="none"/>
<path d="M312.05 215.16L315.85 218.96M312.05 218.96L315.85 215.16" stroke="#443c56" stroke-width="0.9" fill="none"/>
<path d="M321.59 217.2L325.39 221M321.59 221L325.39 217.2" stroke="#443c56" stroke-width="0.9" fill="none"/>
<path d="M331.13 219.23L334.93 223.03M331.13 223.03L334.93 219.23" stroke="#443c56" stroke-width="0.9" fill="none"/>
<text transform="translate(294.87 239.3) scale(1 1.15)" font-size="5.0" text-anchor="middle" fill="#1a1a1a" stroke="#1a1a1a" stroke-width="0.14" >0</text>
<text transform="translate(304.41 239.3) scale(1 1.15)" font-size="5.0" text-anchor="middle" fill="#1a1a1a" stroke="#1a1a1a" stroke-width="0.14" >200</text>
<text transform="translate(313.95 239.3) scale(1 1.15)" font-size="5.0" text-anchor="middle" fill="#1a1a1a" stroke="#1a1a1a" stroke-width="0.14" >400</text>
<text transform="translate(323.49 239.3) scale(1 1.15)" font-size="5.0" text-anchor="middle" fill="#1a1a1a" stroke="#1a1a1a" stroke-width="0.14" >600</text>
<text transform="translate(333.03 239.3) scale(1 1.15)" font-size="5.0" text-anchor="middle" fill="#1a1a1a" stroke="#1a1a1a" stroke-width="0.14" >800</text>
<text transform="translate(314.5 6.2) scale(1 1.1)" font-size="7.4" text-anchor="middle" fill="#1a1a1a" stroke="#1a1a1a" stroke-width="0.14" >Multiple</text>
<text transform="translate(314.5 14.7) scale(1 1.1)" font-size="7.4" text-anchor="middle" fill="#1a1a1a" stroke="#1a1a1a" stroke-width="0.14" >Protein</text>
<rect x="199.4" y="68.6" width="41.5" height="48.7" fill="#fff" stroke="#8a8a8a" stroke-width="0.9"/>
<line x1="204.9" y1="73.6" x2="212.7" y2="73.6" stroke="#766e8a" stroke-width="0.8"/>
<rect x="207.2" y="72.4" width="2.4" height="2.4" fill="#443c56"/>
<text transform="translate(213.6 75.7) scale(1 1.1)" font-size="6.2" text-anchor="start" fill="#1a1a1a" stroke="#1a1a1a" stroke-width="0.14" >escore</text>
<text transform="translate(213.8 82.6) scale(1 1.1)" font-size="6.2" text-anchor="start" fill="#1a1a1a" stroke="#1a1a1a" stroke-width="0.14" >(PPI)</text>
<line x1="204.9" y1="89.5" x2="212.7" y2="89.5" stroke="#766e8a" stroke-width="0.8"/>
<path d="M206.5 87.6L210.3 91.4M206.5 91.4L210.3 87.6" stroke="#443c56" stroke-width="0.9" fill="none"/>
<text transform="translate(213.6 91.6) scale(1 1.1)" font-size="6.2" text-anchor="start" fill="#1a1a1a" stroke="#1a1a1a" stroke-width="0.14" >tscore</text>
<text transform="translate(213.8 98.5) scale(1 1.1)" font-size="6.2" text-anchor="start" fill="#1a1a1a" stroke="#1a1a1a" stroke-width="0.14" >(PPI)</text>
<line x1="204.9" y1="105.4" x2="212.7" y2="105.4" stroke="#766e8a" stroke-width="0.8"/>
<circle cx="208.4" cy="105.4" r="1.26" fill="#443c56"/>
<text transform="translate(213.6 107.5) scale(1 1.1)" font-size="6.2" text-anchor="start" fill="#1a1a1a" stroke="#1a1a1a" stroke-width="0.14" >dscore</text>
<text transform="translate(213.8 114.4) scale(1 1.1)" font-size="6.2" text-anchor="start" fill="#1a1a1a" stroke="#1a1a1a" stroke-width="0.14" >(PPI)</text>
<text transform="translate(265.4 250.8) scale(1 1.1)" font-size="8.1" text-anchor="middle" fill="#1a1a1a" stroke="#1a1a1a" stroke-width="0.14" >score threshold</text>
<rect x="370.6" y="20.1" width="148.7" height="102.1" fill="none" stroke="#6a6a6a" stroke-width="1.1"/>
<line x1="420.5" y1="20.1" x2="420.5" y2="122.2" stroke="#6a6a6a" stroke-width="1.1"/>
<line x1="470.6" y1="20.1" x2="470.6" y2="122.2" stroke="#6a6a6a" stroke-width="1.1"/>
<rect x="370.6" y="131.4" width="148.7" height="101.8" fill="none" stroke="#6a6a6a" stroke-width="1.1"/>
<line x1="420.5" y1="131.4" x2="420.5" y2="233.2" stroke="#6a6a6a" stroke-width="1.1"/>
<line x1="470.6" y1="131.4" x2="470.6" y2="233.2" stroke="#6a6a6a" stroke-width="1.1"/>
<text transform="translate(365.8 124.51) scale(1 1.2)" font-size="5.5" text-anchor="end" fill="#1a1a1a" stroke="#1a1a1a" stroke-width="0.22" >0</text>
<text transform="translate(365.8 114.3) scale(1 1.2)" font-size="5.5" text-anchor="end" fill="#1a1a1a" stroke="#1a1a1a" stroke-width="0.22" >0.1</text>
<text transform="translate(365.8 104.09) scale(1 1.2)" font-size="5.5" text-anchor="end" fill="#1a1a1a" stroke="#1a1a1a" stroke-width="0.22" >0.2</text>
<text transform="translate(365.8 93.88) scale(1 1.2)" font-size="5.5" text-anchor="end" fill="#1a1a1a" stroke="#1a1a1a" stroke-width="0.22" >0.3</text>
<text transform="translate(365.8 83.67) scale(1 1.2)" font-size="5.5" text-anchor="end" fill="#1a1a1a" stroke="#1a1a1a" stroke-width="0.22" >0.4</text>
<text transform="translate(365.8 73.46) scale(1 1.2)" font-size="5.5" text-anchor="end" fill="#1a1a1a" stroke="#1a1a1a" stroke-width="0.22" >0.5</text>
<text transform="translate(365.8 63.25) scale(1 1.2)" font-size="5.5" text-anchor="end" fill="#1a1a1a" stroke="#1a1a1a" stroke-width="0.22" >0.6</text>
<text transform="translate(365.8 53.04) scale(1 1.2)" font-size="5.5" text-anchor="end" fill="#1a1a1a" stroke="#1a1a1a" stroke-width="0.22" >0.7</text>
<text transform="translate(365.8 42.83) scale(1 1.2)" font-size="5.5" text-anchor="end" fill="#1a1a1a" stroke="#1a1a1a" stroke-width="0.22" >0.8</text>
<text transform="translate(365.8 32.62) scale(1 1.2)" font-size="5.5" text-anchor="end" fill="#1a1a1a" stroke="#1a1a1a" stroke-width="0.22" >0.9</text>
<text transform="translate(365.8 22.41) scale(1 1.2)" font-size="5.5" text-anchor="end" fill="#1a1a1a" stroke="#1a1a1a" stroke-width="0.22" >1</text>
<text transform="translate(365.8 235.51) scale(1 1.2)" font-size="5.5" text-anchor="end" fill="#1a1a1a" stroke="#1a1a1a" stroke-width="0.22" >0</text>
<text transform="translate(365.8 225.33) scale(1 1.2)" font-size="5.5" text-anchor="end" fill="#1a1a1a" stroke="#1a1a1a" stroke-width="0.22" >0.1</text>
<text transform="translate(365.8 215.15) scale(1 1.2)" font-size="5.5" text-anchor="end" fill="#1a1a1a" stroke="#1a1a1a" stroke-width="0.22" >0.2</text>
<text transform="translate(365.8 204.97) scale(1 1.2)" font-size="5.5" text-anchor="end" fill="#1a1a1a" stroke="#1a1a1a" stroke-width="0.22" >0.3</text>
<text transform="translate(365.8 194.79) scale(1 1.2)" font-size="5.5" text-anchor="end" fill="#1a1a1a" stroke="#1a1a1a" stroke-width="0.22" >0.4</text>
<text transform="translate(365.8 184.61) scale(1 1.2)" font-size="5.5" text-anchor="end" fill="#1a1a1a" stroke="#1a1a1a" stroke-width="0.22" >0.5</text>
<text transform="translate(365.8 174.43) scale(1 1.2)" font-size="5.5" text-anchor="end" fill="#1a1a1a" stroke="#1a1a1a" stroke-width="0.22" >0.6</text>
<text transform="translate(365.8 164.25) scale(1 1.2)" font-size="5.5" text-anchor="end" fill="#1a1a1a" stroke="#1a1a1a" stroke-width="0.22" >0.7</text>
<text transform="translate(365.8 154.07) scale(1 1.2)" font-size="5.5" text-anchor="end" fill="#1a1a1a" stroke="#1a1a1a" stroke-width="0.22" >0.8</text>
<text transform="translate(365.8 143.89) scale(1 1.2)" font-size="5.5" text-anchor="end" fill="#1a1a1a" stroke="#1a1a1a" stroke-width="0.22" >0.9</text>
<text transform="translate(365.8 133.71) scale(1 1.2)" font-size="5.5" text-anchor="end" fill="#1a1a1a" stroke="#1a1a1a" stroke-width="0.22" >1</text>
<text font-size="8.3" text-anchor="middle" fill="#1a1a1a" stroke="#1a1a1a" stroke-width="0.2" text-rendering="geometricPrecision" transform="translate(354.9 68) rotate(-90) scale(1 1.12)">Precision</text>
<text font-size="8.0" text-anchor="middle" fill="#1a1a1a" stroke="#1a1a1a" stroke-width="0.2" letter-spacing="0.2" text-rendering="geometricPrecision" transform="translate(354.4 175) rotate(-90) scale(1 1.12)">Recall</text>
<path d="M382.58 53.79L407.52 20.1" stroke="#8686b6" stroke-width="0.9" fill="none"/>
<rect x="380.68" y="51.89" width="3.8" height="3.8" fill="#8585b8"/>
<rect x="405.62" y="18.2" width="3.8" height="3.8" fill="#8585b8"/>
<rect x="380.68" y="33.21" width="3.8" height="3.8" fill="#57578a"/>
<path d="M382.58 225.26L407.52 229.64" stroke="#8686b6" stroke-width="0.9" fill="none"/>
<rect x="380.68" y="223.36" width="3.8" height="3.8" fill="#8585b8"/>
<rect x="405.62" y="227.74" width="3.8" height="3.8" fill="#8585b8"/>
<rect x="380.68" y="216.44" width="3.8" height="3.8" fill="#57578a"/>
<text transform="translate(382.58 241) scale(1 1.15)" font-size="5.0" text-anchor="middle" fill="#1a1a1a" stroke="#1a1a1a" stroke-width="0.14" >0</text>
<text transform="translate(407.52 241) scale(1 1.15)" font-size="5.0" text-anchor="middle" fill="#1a1a1a" stroke="#1a1a1a" stroke-width="0.14" >700</text>
<path d="M432.52 88L457.58 20.1" stroke="#8686b6" stroke-width="0.9" fill="none"/>
<rect x="430.62" y="86.1" width="3.8" height="3.8" fill="#8585b8"/>
<rect x="455.68" y="18.2" width="3.8" height="3.8" fill="#8585b8"/>
<rect x="430.62" y="45.26" width="3.8" height="3.8" fill="#57578a"/>
<path d="M432.52 231.16L457.58 231.16" stroke="#8686b6" stroke-width="0.9" fill="none"/>
<rect x="430.62" y="229.26" width="3.8" height="3.8" fill="#8585b8"/>
<rect x="455.68" y="229.26" width="3.8" height="3.8" fill="#8585b8"/>
<rect x="430.62" y="217.86" width="3.8" height="3.8" fill="#57578a"/>
<text transform="translate(432.52 241) scale(1 1.15)" font-size="5.0" text-anchor="middle" fill="#1a1a1a" stroke="#1a1a1a" stroke-width="0.14" >0</text>
<text transform="translate(457.58 241) scale(1 1.15)" font-size="5.0" text-anchor="middle" fill="#1a1a1a" stroke="#1a1a1a" stroke-width="0.14" >700</text>
<path d="M482.27 63.49L506.62 37.97" stroke="#8686b6" stroke-width="0.9" fill="none"/>
<rect x="480.38" y="61.59" width="3.8" height="3.8" fill="#8585b8"/>
<rect x="504.73" y="36.07" width="3.8" height="3.8" fill="#8585b8"/>
<rect x="480.38" y="62.61" width="3.8" height="3.8" fill="#57578a"/>
<path d="M482.27 220.98L506.62 225.56" stroke="#8686b6" stroke-width="0.9" fill="none"/>
<rect x="480.38" y="219.08" width="3.8" height="3.8" fill="#8585b8"/>
<rect x="504.73" y="223.66" width="3.8" height="3.8" fill="#8585b8"/>
<rect x="480.38" y="224.28" width="3.8" height="3.8" fill="#57578a"/>
<text transform="translate(482.27 241) scale(1 1.15)" font-size="5.0" text-anchor="middle" fill="#1a1a1a" stroke="#1a1a1a" stroke-width="0.14" >0</text>
<text transform="translate(506.62 241) scale(1 1.15)" font-size="5.0" text-anchor="middle" fill="#1a1a1a" stroke="#1a1a1a" stroke-width="0.14" >700</text>
<text transform="translate(391.2 8.1) scale(1 1.1)" font-size="7.4" text-anchor="middle" fill="#1a1a1a" stroke="#1a1a1a" stroke-width="0.14" >Disease and</text>
<text transform="translate(392.3 16.9) scale(1 1.1)" font-size="7.4" text-anchor="middle" fill="#1a1a1a" stroke="#1a1a1a" stroke-width="0.14" >Process</text>
<text transform="translate(444.6 7.3) scale(1 1.1)" font-size="7.4" text-anchor="middle" fill="#1a1a1a" stroke="#1a1a1a" stroke-width="0.14" >Process and</text>
<text transform="translate(444.5 16.4) scale(1 1.1)" font-size="7.4" text-anchor="middle" fill="#1a1a1a" stroke="#1a1a1a" stroke-width="0.14" >Protein</text>
<text transform="translate(497.1 6.3) scale(1 1.1)" font-size="7.4" text-anchor="middle" fill="#1a1a1a" stroke="#1a1a1a" stroke-width="0.14" >Multiple</text>
<text transform="translate(497.2 14.8) scale(1 1.1)" font-size="7.4" text-anchor="middle" fill="#1a1a1a" stroke="#1a1a1a" stroke-width="0.14" >Protein</text>
<rect x="378.3" y="89.8" width="33.5" height="29.8" fill="#fff" stroke="#8a8a8a" stroke-width="0.9"/>
<rect x="382" y="92.3" width="3" height="3" fill="#57578a"/>
<text transform="translate(388.9 95.9) scale(1 1.2)" font-size="5.7" text-anchor="start" fill="#1a1a1a" stroke="#1a1a1a" stroke-width="0.14" >PBPI</text>
<line x1="380.5" y1="108.7" x2="387.7" y2="108.7" stroke="#8686b6" stroke-width="0.9"/>
<rect x="382.4" y="107.3" width="2.8" height="2.8" fill="#8585b8"/>
<text transform="translate(388.9 110.8) scale(1 1.2)" font-size="5.7" text-anchor="start" fill="#1a1a1a" stroke="#1a1a1a" stroke-width="0.14" >PCI</text>
<text transform="translate(388.9 118) scale(1 1.1)" font-size="6.2" text-anchor="start" fill="#1a1a1a" stroke="#1a1a1a" stroke-width="0.14" >(dscore)</text>
<text transform="translate(445 252.6) scale(1 1.1)" font-size="8.35" text-anchor="middle" fill="#1a1a1a" stroke="#1a1a1a" stroke-width="0.14" >score threshold</text>
<text transform="translate(93 265.2) scale(1 1.0)" font-size="10" text-anchor="middle" fill="#1a1a1a" stroke="#1a1a1a" stroke-width="0.12" font-family='"Liberation Serif", serif'>(a)</text>
<text transform="translate(265.3 265.2) scale(1 1.0)" font-size="10" text-anchor="middle" fill="#1a1a1a" stroke="#1a1a1a" stroke-width="0.12" font-family='"Liberation Serif", serif'>(b)</text>
<text transform="translate(444.6 265.2) scale(1 1.0)" font-size="10" text-anchor="middle" fill="#1a1a1a" stroke="#1a1a1a" stroke-width="0.12" font-family='"Liberation Serif", serif'>(c)</text>
</svg>
</body></html>
